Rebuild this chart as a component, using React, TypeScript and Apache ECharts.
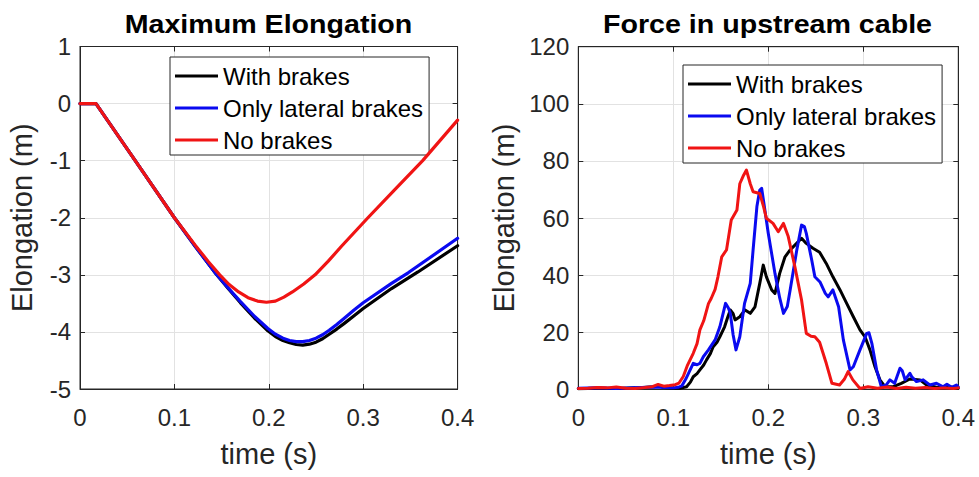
import React, { useEffect, useRef } from "react";
import * as echarts from "echarts";

const FONT = "Liberation Sans, Arial, Helvetica, sans-serif";

const seriesNames = ["With brakes", "Only lateral brakes", "No brakes"];
const seriesColors = ["#000000", "#0a0af0", "#f01414"];

const timeTicks = [0, 0.1, 0.2, 0.3, 0.4];
const elongTicks = [-5, -4, -3, -2, -1, 0, 1];
const forceTicks = [0, 20, 40, 60, 80, 100, 120];

// Left panel: maximum elongation (t [s], elongation [m])
const elongWithBrakes = [
  [0, 0], [0.0169, 0], [0.0585, -1.0], [0.1, -2.0], [0.122, -2.5], [0.144, -2.98],
  [0.157, -3.24], [0.17, -3.49], [0.185, -3.76], [0.199, -3.98], [0.207, -4.08],
  [0.215, -4.15], [0.222, -4.19], [0.229, -4.22], [0.236, -4.23], [0.243, -4.215],
  [0.25, -4.18], [0.257, -4.12], [0.264, -4.04], [0.272, -3.95], [0.28, -3.85],
  [0.29, -3.72], [0.3, -3.59], [0.33, -3.24], [0.358, -2.95], [0.4, -2.49],
];
const elongLateral = [
  [0, 0], [0.0169, 0], [0.0585, -1.0], [0.1, -2.0], [0.122, -2.5], [0.144, -2.98],
  [0.157, -3.23], [0.17, -3.47], [0.185, -3.73], [0.199, -3.94], [0.207, -4.04],
  [0.215, -4.11], [0.222, -4.15], [0.229, -4.17], [0.236, -4.17], [0.243, -4.15],
  [0.25, -4.11], [0.257, -4.05], [0.264, -3.97], [0.272, -3.87], [0.28, -3.76],
  [0.29, -3.62], [0.3, -3.49], [0.33, -3.15], [0.348, -2.96], [0.4, -2.36],
];
const elongNoBrakes = [
  [0, 0], [0.0169, 0], [0.0585, -1.0], [0.1, -2.0], [0.122, -2.48], [0.136, -2.77],
  [0.148, -3.0], [0.158, -3.17], [0.168, -3.3], [0.178, -3.4], [0.188, -3.46],
  [0.1975, -3.48], [0.207, -3.46], [0.216, -3.39], [0.225, -3.3], [0.237, -3.16],
  [0.249, -3.0], [0.263, -2.76], [0.277, -2.5], [0.305, -2.0], [0.335, -1.48],
  [0.363, -1.0], [0.4, -0.29],
];

// Right panel: force in upstream cable (t [s], value)
const forceWithBrakes = [
  [0, 0.2], [0.02, 0.4], [0.04, 0.3], [0.06, 0.5], [0.08, 0.9], [0.085, 1.2], [0.09, 0.6],
  [0.1, 0.4], [0.108, 0.4], [0.114, 0.9], [0.118, 2.5], [0.121, 4.4], [0.125, 5.5],
  [0.128, 6.8], [0.132, 8.5], [0.135, 10.3], [0.139, 12.5], [0.142, 14.9], [0.146, 16.5],
  [0.149, 18.4], [0.154, 21.9], [0.157, 25], [0.16, 27.8], [0.163, 26.5], [0.165, 24.3],
  [0.17, 25.4], [0.1755, 27.8], [0.181, 26.6], [0.186, 28.9], [0.191, 37.1], [0.1947, 43.5],
  [0.198, 39.4], [0.2036, 34.8], [0.207, 33.6], [0.212, 40.6], [0.2176, 46.4], [0.223, 48.8],
  [0.228, 50.5], [0.235, 52.9], [0.24, 51.1], [0.247, 49.4], [0.254, 48], [0.261, 44.1],
  [0.268, 39.4], [0.2755, 34.8], [0.2825, 30.1], [0.2895, 25.4], [0.2965, 20.8],
  [0.3018, 18.4], [0.307, 13.8], [0.3123, 7.9], [0.3175, 3.3], [0.3228, 0.9], [0.3316, 0.9],
  [0.34, 2.1], [0.349, 3.6], [0.3596, 3.3], [0.3667, 1.5], [0.377, 0.7], [0.385, 0.5],
  [0.392, 0.8], [0.4, 0.4],
];
const forceLateral = [
  [0, 0.4], [0.02, 0.5], [0.04, 0.3], [0.06, 0.5], [0.08, 0.8], [0.09, 0.6], [0.1, 0.5],
  [0.105, 0.7], [0.109, 1.2], [0.113, 3.5], [0.116, 5.6], [0.121, 9.1], [0.125, 8.6],
  [0.128, 9.1], [0.1316, 11.4], [0.137, 13.8], [0.144, 17.3], [0.149, 21.9], [0.152, 26],
  [0.155, 30.1], [0.158, 28.5], [0.16, 26.6], [0.163, 19], [0.166, 13.8], [0.17, 18.4],
  [0.175, 30.1], [0.181, 37.1], [0.184, 48.8], [0.188, 64], [0.191, 69.8], [0.193, 70.4],
  [0.195, 66], [0.2, 54.6], [0.207, 40.6], [0.212, 32], [0.216, 26.6], [0.22, 29],
  [0.223, 34.8], [0.23, 48.8], [0.235, 57.5], [0.238, 57], [0.24, 54.6], [0.2457, 45.3],
  [0.249, 39.4], [0.2544, 37.6], [0.26, 33.6], [0.263, 32.4], [0.268, 34.8], [0.274, 28.9],
  [0.279, 17.3], [0.286, 6.8], [0.2895, 7.9], [0.2965, 13.8], [0.3036, 19.6], [0.306, 19.8],
  [0.309, 16.1], [0.314, 6.8], [0.319, 0.9], [0.324, 1.5], [0.328, 3.3], [0.333, 2.1],
  [0.3386, 7.4], [0.341, 6.5], [0.344, 3.3], [0.349, 5.6], [0.351, 4.4], [0.356, 2.7],
  [0.363, 3.3], [0.37, 1.5], [0.377, 2.1], [0.384, 0.9], [0.388, 1.8], [0.393, 0.7],
  [0.398, 1.5], [0.4, 0.8],
];
const forceNoBrakes = [
  [0, 0.3], [0.01, 0.4], [0.02, 0.6], [0.03, 0.5], [0.04, 0.8], [0.05, 0.4], [0.06, 0.3],
  [0.07, 0.6], [0.078, 0.9], [0.084, 1.7], [0.09, 1.1], [0.096, 1.3], [0.102, 1.6],
  [0.106, 2.2], [0.1105, 4.5], [0.115, 8.5], [0.121, 12.6], [0.125, 16], [0.128, 20.8],
  [0.132, 24], [0.137, 30], [0.14, 31.9], [0.144, 35], [0.147, 39.4], [0.151, 46.4],
  [0.156, 48.8], [0.161, 59.3], [0.167, 62.8], [0.17, 72], [0.174, 75], [0.177, 76.8],
  [0.181, 72], [0.184, 69.2], [0.191, 68.6], [0.195, 64], [0.198, 59.9], [0.205, 58.1],
  [0.2105, 55.2], [0.216, 58.1], [0.221, 53.5], [0.228, 42.9], [0.235, 31.3], [0.24, 19.6],
  [0.245, 18.6], [0.249, 18.4], [0.254, 16.5], [0.261, 9.1], [0.267, 2.1], [0.275, 1.5],
  [0.28, 3.5], [0.284, 6.2], [0.289, 3.3], [0.2965, 0.3], [0.305, 0.9], [0.315, 0.4],
  [0.325, 0.8], [0.335, 0.3], [0.345, 0.7], [0.355, 0.4], [0.365, 0.6], [0.375, 0.3],
  [0.385, 0.5], [0.395, 0.3], [0.4, 0.5],
];

const AXIS_COLOR = "#262626";
const GRID_COLOR = "#e2e2e2";

const axisLineStyle = { show: true, onZero: false, lineStyle: { color: AXIS_COLOR, width: 1 } };
const tickStyle = { show: true, inside: true, length: 5, lineStyle: { color: AXIS_COLOR } };

function bottomAxis(gridIndex: number) {
  return {
    gridIndex,
    type: "value",
    position: "bottom",
    min: timeTicks[0],
    max: timeTicks[timeTicks.length - 1],
    interval: 0.1,
    name: "time (s)",
    nameLocation: "middle",
    nameGap: 50,
    nameTextStyle: { fontSize: 29, color: AXIS_COLOR, fontFamily: FONT },
    axisLine: axisLineStyle,
    axisTick: tickStyle,
    axisLabel: { fontSize: 24, color: AXIS_COLOR, margin: 16, fontFamily: FONT },
    splitLine: { show: true, lineStyle: { color: GRID_COLOR, width: 1 } },
  };
}
function topAxis(gridIndex: number) {
  return {
    gridIndex,
    type: "value",
    position: "top",
    min: timeTicks[0],
    max: timeTicks[timeTicks.length - 1],
    interval: 0.1,
    axisLine: axisLineStyle,
    axisTick: tickStyle,
    axisLabel: { show: false },
    splitLine: { show: false },
  };
}
function leftAxis(gridIndex: number, ticks: number[], interval: number, nameGap: number) {
  return {
    gridIndex,
    type: "value",
    position: "left",
    min: ticks[0],
    max: ticks[ticks.length - 1],
    interval,
    name: "Elongation (m)",
    nameLocation: "middle",
    nameGap,
    nameTextStyle: { fontSize: 29, color: AXIS_COLOR, fontFamily: FONT },
    axisLine: axisLineStyle,
    axisTick: tickStyle,
    axisLabel: { fontSize: 24, color: AXIS_COLOR, margin: 9, fontFamily: FONT },
    splitLine: { show: true, lineStyle: { color: GRID_COLOR, width: 1 } },
  };
}
function rightAxis(gridIndex: number, ticks: number[], interval: number) {
  return {
    gridIndex,
    type: "value",
    position: "right",
    min: ticks[0],
    max: ticks[ticks.length - 1],
    interval,
    axisLine: axisLineStyle,
    axisTick: tickStyle,
    axisLabel: { show: false },
    splitLine: { show: false },
  };
}

function legend(left: number, top: number) {
  return {
    data: seriesNames,
    orient: "vertical",
    left,
    top,
    backgroundColor: "#ffffff",
    borderColor: AXIS_COLOR,
    borderWidth: 1,
    borderRadius: 0,
    padding: [7, 6, 3, 5],
    itemGap: 8,
    itemWidth: 43,
    itemHeight: 3,
    icon: "rect",
    selectedMode: false,
    textStyle: { fontSize: 24, lineHeight: 24, color: "#000000", fontFamily: FONT },
  };
}

function lineSeries(name: string, data: number[][], axisIdx: number, width: number) {
  const i = seriesNames.indexOf(name);
  return {
    name,
    type: "line",
    xAxisIndex: axisIdx * 2,
    yAxisIndex: axisIdx * 2,
    data,
    showSymbol: false,
    symbol: "none",
    smooth: false,
    color: seriesColors[i],
    lineStyle: { color: seriesColors[i], width, join: "round", cap: "round" },
    z: 2 + i,
  };
}

function titleText(text: string, x: number) {
  return {
    type: "text",
    x,
    y: 24,
    scaleX: 1.1,
    style: {
      text,
      fontSize: 26,
      fontWeight: "bold",
      fontFamily: FONT,
      fill: "#000000",
      align: "center",
      verticalAlign: "middle",
    },
  };
}

export default function App() {
  const ref = useRef<HTMLDivElement>(null);
  useEffect(() => {
    if (!ref.current) return;
    const chart = echarts.init(ref.current, null, { renderer: "svg" });
    const option: any = {
      animation: false,
      backgroundColor: "#ffffff",
      textStyle: { fontFamily: FONT },
      graphic: [titleText("Maximum Elongation", 268.5), titleText("Force in upstream cable", 767.5)],
      grid: [
        { left: 80, top: 46.5, width: 377.6, height: 342.5, show: true, borderColor: AXIS_COLOR, borderWidth: 1, backgroundColor: "#ffffff" },
        { left: 578.3, top: 46.7, width: 380, height: 342.6, show: true, borderColor: AXIS_COLOR, borderWidth: 1, backgroundColor: "#ffffff" },
      ],
      xAxis: [bottomAxis(0), topAxis(0), bottomAxis(1), topAxis(1)],
      yAxis: [
        leftAxis(0, elongTicks, 1, 44),
        rightAxis(0, elongTicks, 1),
        leftAxis(1, forceTicks, 20, 60),
        rightAxis(1, forceTicks, 20),
      ],
      legend: [legend(170, 57), legend(683, 65)],
      series: [
        lineSeries("With brakes", elongWithBrakes, 0, 3.2),
        lineSeries("Only lateral brakes", elongLateral, 0, 3.2),
        lineSeries("No brakes", elongNoBrakes, 0, 3.2),
        lineSeries("With brakes", forceWithBrakes, 1, 3),
        lineSeries("Only lateral brakes", forceLateral, 1, 3),
        lineSeries("No brakes", forceNoBrakes, 1, 3),
      ],
    };
    chart.setOption(option);
    return () => chart.dispose();
  }, []);
  return (
    <div
      ref={ref}
      style={{ position: "absolute", left: 0, top: 0, width: 979, height: 477, background: "#ffffff" }}
    />
  );
}
